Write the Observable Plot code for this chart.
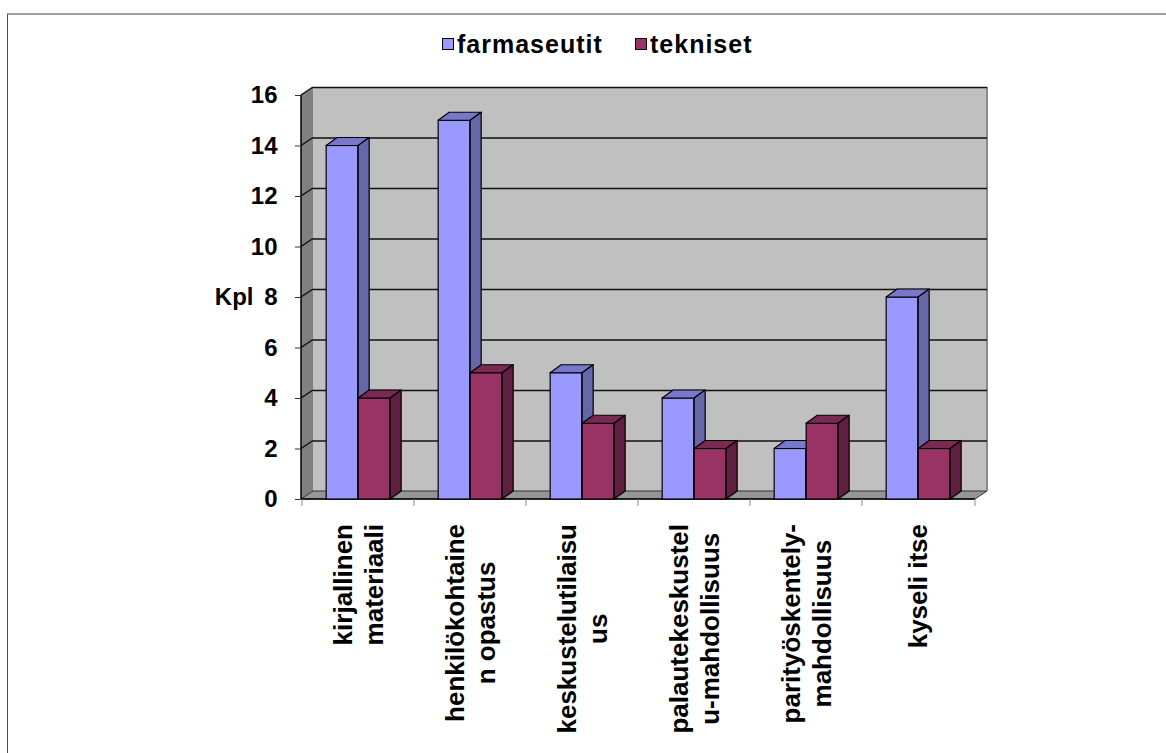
<!DOCTYPE html>
<html>
<head>
<meta charset="utf-8">
<script src="https://cdn.jsdelivr.net/npm/d3@7"></script>
<script src="https://cdn.jsdelivr.net/npm/@observablehq/plot@0.6"></script>
<style>
  body { margin: 0; background: #fff; font-family: "Liberation Sans", Arial, sans-serif; }
  #page { position: relative; width: 1166px; height: 753px; overflow: hidden; }
  #border { position: absolute; left: 7px; top: 13px; width: 1200px; height: 800px;
            border-top: 2px solid #a0a0a0; border-left: 1px solid #4a4a4a; pointer-events: none; }
  .item { position: absolute; top: 30px; display: flex; align-items: center;
          font-weight: bold; font-size: 25px; letter-spacing: 1px; color: #000;
          line-height: 28px; white-space: nowrap; }
  .swatch { width: 10px; height: 10px; border: 1.5px solid #000; margin-right: 3px; }
  #chart { position: absolute; left: 0; top: 60px; }
</style>
</head>
<body>
<div id="page">
  <div id="border"></div>
  <div id="legend"></div>
  <div id="chart"></div>
</div>
<script>
// Survey answers: what helped in learning (count of respondents)
const categories = [
  "kirjallinen\nmateriaali",
  "henkilökohtaine\nn opastus",
  "keskustelutilaisu\nus",
  "palautekeskustel\nu-mahdollisuus",
  "parityöskentely-\nmahdollisuus",
  "kyseli itse"
];
const farmaseutit = [14, 15, 5, 4, 2, 8];
const tekniset = [4, 5, 3, 2, 3, 2];
const seriesNames = ["farmaseutit", "tekniset"];
const yTicks = [0, 2, 4, 6, 8, 10, 12, 14, 16];
const yLabel = "Kpl";

// Colours of the three visible faces of each column
const faces = {
  farmaseutit: {front: "#9999ff", top: "#7777cc", side: "#6666aa"},
  tekniset: {front: "#993366", top: "#7a2952", side: "#5e1f40"}
};

// Layout
const W = 1166, H = 693;
const M = {left: 301, right: 191, top: 35, bottom: 254};
const BAR = 32;            // column width
const DX = 11, DY = 8;     // depth of the columns
const WX = 12, WY = 8;     // depth of the walls
const FONT = '"Liberation Sans", Arial, sans-serif';
const bandwidth = (W - M.left - M.right) / categories.length;
const pairLeft = (bandwidth - 2 * BAR) / 2;

// Legend
const legend = document.getElementById("legend");
[[seriesNames[0], 442], [seriesNames[1], 635]].forEach(([name, left]) => {
  const item = document.createElement("div");
  item.className = "item";
  item.style.left = left + "px";
  const sw = document.createElement("div");
  sw.className = "swatch";
  sw.style.background = faces[name].front;
  item.appendChild(sw);
  item.appendChild(document.createTextNode(name));
  legend.appendChild(item);
});

// Side wall, back wall and floor of the 3-D box
function walls(index, {x, y}, values, dims) {
  const L = dims.marginLeft, R = dims.width - dims.marginRight;
  const [d0, d1] = y.domain();
  const T = y(d1), B = y(d0);
  const g = d3.create("svg:g");
  g.append("path").attr("fill", "#808080")
    .attr("d", `M${L},${T}L${L + WX},${T - WY}L${L + WX},${B - WY}L${L},${B}Z`);
  g.append("rect").attr("fill", "#c0c0c0")
    .attr("x", L + WX).attr("y", T - WY).attr("width", R - L).attr("height", B - T);
  g.append("path").attr("fill", "#969696").attr("stroke", "#333").attr("stroke-width", 1)
    .attr("d", `M${L},${B}L${R},${B}L${R + WX},${B - WY}L${L + WX},${B - WY}Z`);
  g.append("line").attr("stroke", "#8a8a8a").attr("stroke-width", 2)
    .attr("x1", R + WX).attr("x2", R + WX).attr("y1", T - WY).attr("y2", B - WY);
  return g.node();
}

// Gridline continuation across the side wall
function sideGrid(index, {x, y}, values, dims) {
  const L = dims.marginLeft;
  const g = d3.create("svg:g").attr("stroke", "#111").attr("stroke-width", 1.5);
  yTicks.filter(t => t > 0).forEach(t => {
    g.append("line").attr("x1", L).attr("y1", y(t)).attr("x2", L + WX).attr("y2", y(t) - WY);
  });
  return g.node();
}

// Vertical value axis line and the category axis with ticks at band edges
function axisLines(index, {x, y}, values, dims) {
  const L = dims.marginLeft, R = dims.width - dims.marginRight;
  const [d0, d1] = y.domain();
  const g = d3.create("svg:g");
  g.append("line").attr("stroke", "#000").attr("stroke-width", 1.5)
    .attr("x1", L).attr("x2", L).attr("y1", y(d1)).attr("y2", y(d0));
  g.append("line").attr("stroke", "#000").attr("stroke-width", 1.5)
    .attr("x1", L).attr("x2", R).attr("y1", y(d0)).attr("y2", y(d0));
  const edges = categories.map(c => x(c)).concat([R]);
  edges.forEach(ex => {
    g.append("line").attr("stroke", "#888").attr("stroke-width", 1)
      .attr("x1", ex).attr("x2", ex).attr("y1", y(d0)).attr("y2", y(d0) + 7);
  });
  return g.node();
}

// Top and right faces of the columns of one series
function depthFaces(series, offset) {
  const c = faces[series];
  const data = series === "farmaseutit" ? farmaseutit : tekniset;
  return (index, {x, y}) => {
    const g = d3.create("svg:g").attr("stroke", "#000").attr("stroke-width", 1.2)
      .attr("stroke-linejoin", "round");
    categories.forEach((cat, i) => {
      const x0 = x(cat) + offset, x1 = x0 + BAR;
      const yt = y(data[i]), yb = y(0);
      g.append("path").attr("fill", c.top)
        .attr("d", `M${x0},${yt}L${x0 + DX},${yt - DY}L${x1 + DX},${yt - DY}L${x1},${yt}Z`);
      g.append("path").attr("fill", c.side)
        .attr("d", `M${x1},${yt}L${x1 + DX},${yt - DY}L${x1 + DX},${yb - DY}L${x1},${yb}Z`);
    });
    return g.node();
  };
}

// Rotated, centred category labels whose upper end sits just below the axis
const measure = document.createElement("canvas").getContext("2d");
measure.font = `bold 26px ${FONT}`;
function categoryLabels(index, {x, y}, values, dims) {
  const g = d3.create("svg:g").attr("font-family", FONT).attr("font-weight", "bold")
    .attr("font-size", 26).attr("fill", "#000").attr("text-anchor", "middle");
  const lineH = 31;
  categories.forEach(cat => {
    const lines = cat.split("\n");
    const longest = d3.max(lines, s => measure.measureText(s).width);
    const cx = x(cat) + x.bandwidth() / 2;
    const cy = y(0) + 25 + longest / 2;
    const t = g.append("g").attr("transform", `translate(${cx},${cy}) rotate(-90)`);
    lines.forEach((s, k) => {
      t.append("text").attr("y", (k - (lines.length - 1) / 2) * lineH)
        .attr("dy", "0.36em").text(s);
    });
  });
  return g.node();
}

const rows = (series, vals) => categories.map((c, i) => ({category: c, series, value: vals[i]}));

const chart = Plot.plot({
  width: W,
  height: H,
  marginLeft: M.left,
  marginRight: M.right,
  marginTop: M.top,
  marginBottom: M.bottom,
  style: {fontFamily: FONT, background: "transparent", overflow: "visible"},
  x: {type: "band", domain: categories, padding: 0, axis: null},
  y: {domain: [0, 16], axis: null},
  marks: [
    walls,
    Plot.ruleY(yTicks.filter(t => t > 0), {dx: WX, dy: -WY, stroke: "#111", strokeWidth: 1.5}),
    sideGrid,
    axisLines,
    Plot.axisY({ticks: yTicks, tickSize: 6, tickPadding: 18, fontSize: 24, fontWeight: "bold",
                stroke: "#333", label: null}),
    Plot.text([yLabel], {frameAnchor: "left", dx: -48, textAnchor: "end", fontSize: 24,
                fontWeight: "bold", fill: "#000"}),
    Plot.barY(rows("farmaseutit", farmaseutit), {
      x: "category", y: "value", fill: faces.farmaseutit.front, stroke: "#000", strokeWidth: 1.2,
      insetLeft: pairLeft, insetRight: bandwidth - pairLeft - BAR
    }),
    depthFaces("farmaseutit", pairLeft),
    Plot.barY(rows("tekniset", tekniset), {
      x: "category", y: "value", fill: faces.tekniset.front, stroke: "#000", strokeWidth: 1.2,
      insetLeft: pairLeft + BAR, insetRight: bandwidth - pairLeft - 2 * BAR
    }),
    depthFaces("tekniset", pairLeft + BAR),
    categoryLabels
  ]
});
document.getElementById("chart").appendChild(chart);
</script>
</body>
</html>
